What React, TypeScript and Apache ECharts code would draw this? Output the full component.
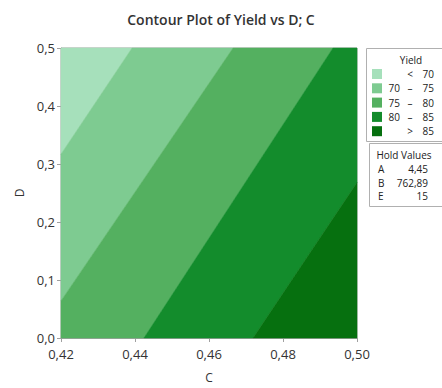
import React, { useEffect, useRef } from "react";
import * as echarts from "echarts";

const xTicks = [0.42, 0.44, 0.46, 0.48, 0.5];
const yTicks = [0, 0.1, 0.2, 0.3, 0.4, 0.5];

// Contour regions as (C, D) vertices
const regionBelow70 = [[0.42, 0.317], [0.4392, 0.5], [0.42, 0.5]];
const region70to75 = [[0.42, 0.064], [0.42, 0.317], [0.4392, 0.5], [0.4665, 0.5]];
const region75to80 = [[0.42, 0], [0.42, 0.064], [0.4665, 0.5], [0.4935, 0.5], [0.4424, 0]];
const region80to85 = [[0.4424, 0], [0.4935, 0.5], [0.5, 0.5], [0.5, 0.268], [0.4719, 0]];
const regionAbove85 = [[0.4719, 0], [0.5, 0.268], [0.5, 0]];

const regions = [regionBelow70, region70to75, region75to80, region80to85, regionAbove85];
const regionColors = ["#a6e0bb", "#7ecb91", "#54b060", "#138c2c", "#06700f"];
const legendLabels: [string, string, string][] = [
  ["", "<", "70"],
  ["70", "–", "75"],
  ["75", "–", "80"],
  ["80", "–", "85"],
  ["", ">", "85"],
];
const holdNames = ["A", "B", "E"];
const holdValues = ["4,45", "762,89", "15"];

const FONT = "'Open Sans', 'Noto Sans', sans-serif";

export default function App() {
  const ref = useRef<HTMLDivElement>(null);
  useEffect(() => {
    document.body.style.margin = "0";
    document.documentElement.style.overflow = "hidden";
    if (!ref.current) return;
    const chart = echarts.init(ref.current, null, { renderer: "svg" });

    const graphics: any[] = [];
    graphics.push({
      type: "rect",
      shape: { x: 366.5, y: 48.5, width: 80, height: 93 },
      style: { fill: "#fff", stroke: "#b0b0b0", lineWidth: 1 },
    });
    graphics.push({
      type: "text",
      x: 411,
      y: 60,
      style: { text: "Yield", font: `10px ${FONT}`, fill: "#222", align: "center", verticalAlign: "middle" },
    });
    legendLabels.forEach((lab, i) => {
      const y = 74 + i * 14.3;
      graphics.push({
        type: "rect",
        shape: { x: 372, y: y - 5, width: 10, height: 10 },
        style: { fill: regionColors[i] },
      });
      if (lab[0]) {
        graphics.push({
          type: "text",
          x: 400,
          y,
          style: { text: lab[0], font: `10px ${FONT}`, fill: "#222", align: "right", verticalAlign: "middle" },
        });
      }
      graphics.push({
        type: "text",
        x: 410,
        y,
        style: { text: lab[1], font: `10px ${FONT}`, fill: "#222", align: "center", verticalAlign: "middle" },
      });
      graphics.push({
        type: "text",
        x: 434,
        y,
        style: { text: lab[2], font: `10px ${FONT}`, fill: "#222", align: "right", verticalAlign: "middle" },
      });
    });
    graphics.push({
      type: "rect",
      shape: { x: 369.5, y: 143.5, width: 80, height: 63 },
      style: { fill: "#fff", stroke: "#b0b0b0", lineWidth: 1 },
    });
    graphics.push({
      type: "text",
      x: 404,
      y: 155,
      style: { text: "Hold Values", font: `10px ${FONT}`, fill: "#222", align: "center", verticalAlign: "middle" },
    });
    holdNames.forEach((n, i) => {
      const y = 169 + i * 13.5;
      graphics.push({
        type: "text",
        x: 378,
        y,
        style: { text: n, font: `10px ${FONT}`, fill: "#222", align: "left", verticalAlign: "middle" },
      });
      graphics.push({
        type: "text",
        x: 428,
        y,
        style: { text: holdValues[i], font: `10px ${FONT}`, fill: "#222", align: "right", verticalAlign: "middle" },
      });
    });

    chart.setOption({
      animation: false,
      title: {
        text: "Contour Plot of Yield vs D; C",
        left: "center",
        top: 7,
        textStyle: { fontFamily: FONT, fontSize: 14, fontWeight: 600, color: "#333" },
      },
      grid: { left: 61, right: 85, top: 48, bottom: 45, show: true, borderColor: "#a0a0a0", borderWidth: 1 },
      xAxis: {
        type: "value",
        min: xTicks[0],
        max: xTicks[xTicks.length - 1],
        interval: 0.02,
        name: "C",
        nameLocation: "middle",
        nameGap: 33,
        nameTextStyle: { fontFamily: FONT, fontSize: 12, color: "#333" },
        axisLine: { show: true, lineStyle: { color: "#a0a0a0" } },
        axisTick: { show: true, length: 4, lineStyle: { color: "#a0a0a0" } },
        splitLine: { show: false },
        axisLabel: {
          fontFamily: FONT,
          fontSize: 13,
          lineHeight: 13,
          color: "#333",
          margin: 9,
          formatter: (v: number) => v.toFixed(2).replace(".", ","),
        },
      },
      yAxis: {
        type: "value",
        min: yTicks[0],
        max: yTicks[yTicks.length - 1],
        interval: 0.1,
        name: "D",
        nameLocation: "middle",
        nameGap: 32,
        nameTextStyle: { fontFamily: FONT, fontSize: 12, color: "#333" },
        axisLine: { show: true, lineStyle: { color: "#a0a0a0" } },
        axisTick: { show: true, length: 4, lineStyle: { color: "#a0a0a0" } },
        splitLine: { show: false },
        axisLabel: {
          fontFamily: FONT,
          fontSize: 13,
          lineHeight: 13,
          color: "#333",
          margin: 6,
          formatter: (v: number) => v.toFixed(1).replace(".", ","),
        },
      },
      series: [
        {
          type: "custom",
          coordinateSystem: "cartesian2d",
          data: regions.map((_, i) => [xTicks[0], yTicks[0], i]),
          encode: { x: 0, y: 1 },
          silent: true,
          z: 1,
          renderItem: (params: any, api: any) => {
            const idx = api.value(2);
            const pts = regions[idx].map((p) => api.coord(p));
            return {
              type: "polygon",
              shape: { points: pts },
              style: { fill: regionColors[idx], stroke: regionColors[idx], lineWidth: 0.5 },
            };
          },
        },
      ],
      graphic: graphics,
    });
    return () => chart.dispose();
  }, []);
  return <div ref={ref} style={{ width: 442, height: 388 }} />;
}
